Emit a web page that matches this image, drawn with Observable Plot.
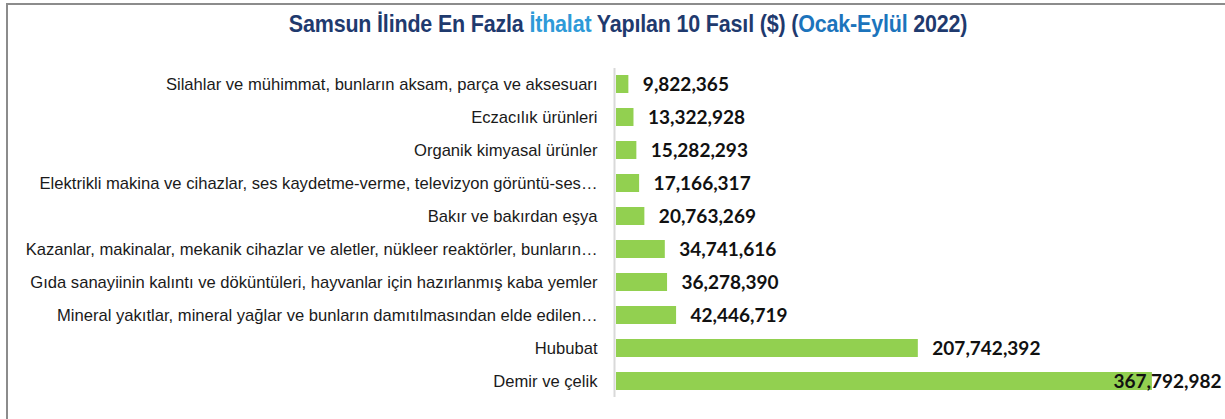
<!DOCTYPE html>
<html>
<head>
<meta charset="utf-8">
<script src="https://cdn.jsdelivr.net/npm/d3@7"></script>
<script src="https://cdn.jsdelivr.net/npm/@observablehq/plot@0.6"></script>
<style>
  html, body { margin: 0; padding: 0; background: #fff; overflow: hidden; }
  #frame {
    position: absolute; left: 6px; top: 3px; width: 1225px; height: 420px;
    border-top: 2px solid #8c8c8c; border-left: 2px solid #8c8c8c;
  }
  #title {
    height: 40px; line-height: 38px; text-align: center; width: 1240px;
    white-space: nowrap;
  }
  #title .t {
    display: inline-block; transform: scaleX(0.895); transform-origin: center;
    font-family: "Liberation Sans", Arial, sans-serif;
    font-weight: bold; font-size: 24px; color: #1f3a6e; letter-spacing: -0.2px;
  }
  #title .a { color: #2e9ad8; }
  #title .b { color: #1c74bc; }
  #chart svg { display: block; }
</style>
</head>
<body>
<div id="frame">
  <div id="title"><span class="t">Samsun İlinde En Fazla <span class="a">İthalat</span> Yapılan 10 Fasıl ($) (<span class="b">Ocak-Eylül</span> 2022)</span></div>
  <div id="chart"></div>
</div>
<script>
const categories = [
  "Silahlar ve mühimmat, bunların aksam, parça ve aksesuarı",
  "Eczacılık ürünleri",
  "Organik kimyasal ürünler",
  "Elektrikli makina ve cihazlar, ses kaydetme-verme, televizyon görüntü-ses…",
  "Bakır ve bakırdan eşya",
  "Kazanlar, makinalar, mekanik cihazlar ve aletler, nükleer reaktörler, bunların…",
  "Gıda sanayiinin kalıntı ve döküntüleri, hayvanlar için hazırlanmış kaba yemler",
  "Mineral yakıtlar, mineral yağlar ve bunların damıtılmasından elde edilen…",
  "Hububat",
  "Demir ve çelik"
];
const values = [9822365, 13322928, 15282293, 17166317, 20763269, 34741616, 36278390, 42446719, 207742392, 367792982];

const data = categories.map((c, i) => ({category: c, value: values[i]}));
const maxVal = d3.max(values);
const fmt = d3.format(",");

const plot = Plot.plot({
  width: 1217,
  height: 374,
  marginTop: 19,
  marginBottom: 18,
  marginLeft: 606,
  marginRight: 26,
  x: {domain: [0, 400000000], axis: null},
  y: {domain: categories, paddingInner: 0.45, paddingOuter: 0.225, axis: null},
  marks: [
    Plot.barX(data, {y: "category", x: "value", fill: "#92d050", insetLeft: 2}),
    Plot.ruleX([0], {stroke: "#d9d9d9", strokeWidth: 2, insetTop: 4, insetBottom: 4}),
    Plot.axisY({tickSize: 0, tickPadding: 17, label: null, fontSize: 16.6,
      fontFamily: "'Liberation Sans', Arial, sans-serif", fill: "#1a1a1a", letterSpacing: "-0.2px"}),
    Plot.text(data.filter(d => d.value !== maxVal), {
      y: "category", x: "value", text: d => fmt(d.value),
      textAnchor: "start", dx: 14, fontWeight: "bold", fontSize: 19,
      fontFamily: "Lato, 'Open Sans', sans-serif", fill: "#111"
    }),
    Plot.text(data.filter(d => d.value === maxVal), {
      y: "category", frameAnchor: "right", text: d => fmt(d.value),
      textAnchor: "end", dx: 22, fontWeight: "bold", fontSize: 19,
      fontFamily: "Lato, 'Open Sans', sans-serif", fill: "#111"
    })
  ]
});
document.getElementById("chart").appendChild(plot);
</script>
</body>
</html>
